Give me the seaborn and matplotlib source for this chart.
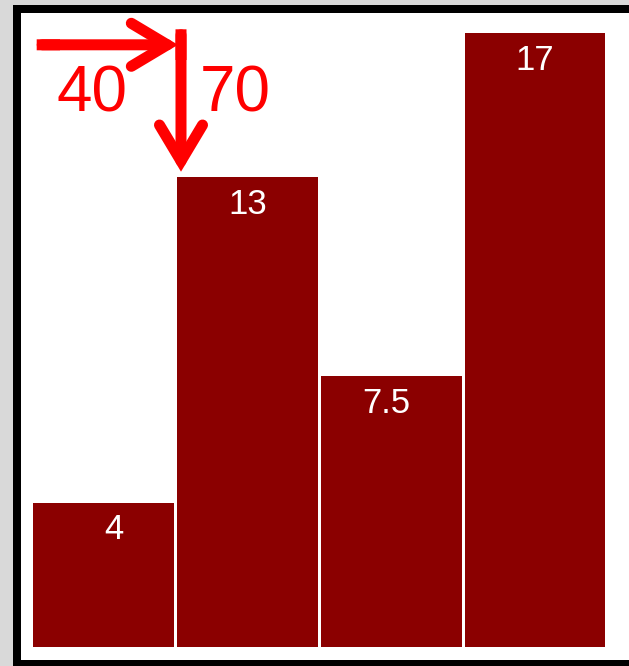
import matplotlib
matplotlib.use("Agg")
import matplotlib.pyplot as plt
from matplotlib.patches import Rectangle
import seaborn as sns

# Bar data
categories = ["a", "b", "c", "d"]
values = [4, 13, 7.5, 17]

# Margin callouts (left and top margin sizes)
margin_labels = ["40", "70"]

W, H = 629, 666
BAR_COLOR = "#8b0000"
ARROW_COLOR = "#ff0000"

sns.set_theme(style="white")
plt.rcParams["font.family"] = ["Liberation Sans", "DejaVu Sans"]

fig = plt.figure(figsize=(W / 100, H / 100), dpi=100)
fig.patch.set_facecolor("#d9d9d9")

# Black frame with white canvas inside
fig.add_artist(Rectangle((12.7 / W, -0.1), 1.2, (H - 4.7) / H + 0.1,
                         transform=fig.transFigure, facecolor="black",
                         edgecolor="none", zorder=-3))
fig.add_artist(Rectangle((20.7 / W, 6 / H), 1.2, (653.3 - 6) / H,
                         transform=fig.transFigure, facecolor="white",
                         edgecolor="none", zorder=-2))

# Plot area
left, right = 31.6, 606.9
bottom, top = H - 647, H - 33
ax = fig.add_axes([left / W, bottom / H, (right - left) / W, (top - bottom) / H])
ax.set_facecolor("none")

sns.barplot(x=categories, y=values, color=BAR_COLOR, saturation=1,
            width=0.98, linewidth=0, ax=ax)
ax.set_xlim(-0.5, len(categories) - 0.5)
ax.set_ylim(0, max(values))
ax.set_axis_off()

# Value labels near the top of each bar, end-anchored just right of centre
PX = 0.72  # points per pixel at 100 dpi
for i, v in enumerate(values):
    ax.annotate(f"{v:g}", xy=(i, v), xytext=(19.5 * PX, -36.5 * PX),
                textcoords="offset points", ha="right", va="baseline",
                color="white", fontsize=25, annotation_clip=False)

# Margin arrows, drawn in figure pixel coordinates
LW = 11 * PX
head = "->,head_length=25.9,head_width=15.5"


def margin_arrow(start, tip, cap_end):
    # square tail
    ax.annotate("", xy=cap_end, xycoords="figure pixels",
                xytext=start, textcoords="figure pixels",
                arrowprops=dict(arrowstyle="-", lw=LW, color=ARROW_COLOR,
                                shrinkA=0, shrinkB=0, capstyle="butt"))
    # shaft and open head with rounded barb ends
    dx = cap_end[0] - start[0]
    dy = cap_end[1] - start[1]
    n = (dx ** 2 + dy ** 2) ** 0.5
    inner = (start[0] + 5.5 * dx / n, start[1] + 5.5 * dy / n)
    ax.annotate("", xy=tip, xycoords="figure pixels",
                xytext=inner, textcoords="figure pixels",
                arrowprops=dict(arrowstyle=head, mutation_scale=1, lw=LW,
                                color=ARROW_COLOR, shrinkA=0, shrinkB=0,
                                capstyle="round", joinstyle="miter"))


margin_arrow((36.7, H - 44.8), (178, H - 44.8), (60, H - 44.8))
margin_arrow((181, H - 29.3), (181, H - 171.7), (181, H - 60))

for label, x in zip(margin_labels, [92, 235]):
    ax.annotate(label, xy=(x, H - 112), xycoords="figure pixels",
                ha="center", va="baseline", color=ARROW_COLOR, fontsize=46)

fig.savefig("out.png", dpi=100)
